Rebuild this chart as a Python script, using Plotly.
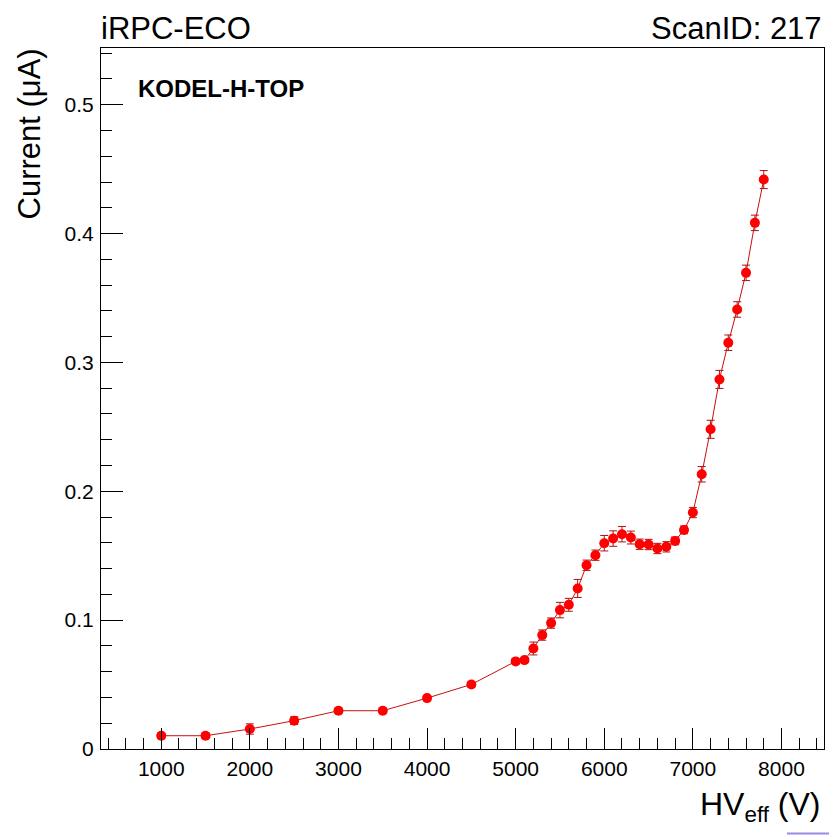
import plotly.graph_objects as go

# ---- data ----
hv = [1000, 1500, 2000, 2500, 3000, 3500, 4000, 4500,
      5000, 5100, 5200, 5300, 5400, 5500, 5600, 5700, 5800, 5900,
      6000, 6100, 6200, 6300, 6400, 6500, 6600, 6700, 6800, 6900,
      7000, 7100, 7200, 7300, 7400, 7500, 7600, 7700, 7800]
current = [0.0103, 0.0103, 0.0155, 0.0220, 0.0297, 0.0297, 0.0395, 0.0501,
           0.0680, 0.0690, 0.0780, 0.0884, 0.0977, 0.1078, 0.1119, 0.1246, 0.1426, 0.1504,
           0.1597, 0.1633, 0.1667, 0.1641, 0.1589, 0.1587, 0.1556, 0.1569, 0.1615, 0.1700,
           0.1835, 0.2132, 0.2481, 0.2868, 0.3153, 0.3411, 0.3695, 0.4083, 0.4419]
current_err = [0.002, 0.002, 0.004, 0.003, 0.002, 0.002, 0.002, 0.002,
               0.002, 0.002, 0.005, 0.004, 0.004, 0.006, 0.005, 0.007, 0.004, 0.004,
               0.006, 0.006, 0.006, 0.005, 0.004, 0.004, 0.004, 0.004, 0.003, 0.003,
               0.004, 0.006, 0.007, 0.007, 0.006, 0.006, 0.006, 0.006, 0.007]

y_tick_vals = [0, 0.1, 0.2, 0.3, 0.4, 0.5]
y_tick_text = ["0", "0.1", "0.2", "0.3", "0.4", "0.5"]

title_left = "iRPC-ECO"
title_right = "ScanID: 217"
label_text = "KODEL-H-TOP"
x_title = "HV<sub>eff</sub> (V)"
y_title = "Current (\u03bcA)"

# ---- layout geometry ----
W, H = 829, 835
ML, MR, MT, MB = 101, 5, 48, 86
PW = W - ML - MR
PH = H - MT - MB


def px_x(px):
    return (px - ML) / PW


def px_y(py):
    return (H - MB - py) / PH


FONT = "Liberation Sans, Arial, Helvetica, sans-serif"

fig = go.Figure()
fig.add_trace(go.Scatter(
    x=hv, y=current,
    mode="lines+markers",
    line=dict(color="#c81010", width=1),
    marker=dict(color="#ff0000", size=10, line=dict(width=0)),
    error_y=dict(type="data", array=current_err, visible=True,
                 color="#a81414", thickness=1, width=4),
    showlegend=False,
))

axis_common = dict(
    showline=True, linecolor="black", linewidth=1, mirror=True,
    ticks="inside", tickcolor="black", tickwidth=1,
    showgrid=False, zeroline=False,
    tickfont=dict(family=FONT, size=21, color="black"),
)

fig.update_xaxes(
    range=[320, 8480], tick0=0, dtick=1000, ticklen=21,
    minor=dict(dtick=200, tick0=0, ticklen=11, ticks="inside", tickcolor="black", showgrid=False),
    ticklabelstandoff=1,
    **axis_common,
)
fig.update_yaxes(
    range=[0, 0.544], tickmode="array", tickvals=y_tick_vals, ticktext=y_tick_text,
    ticklen=22,
    minor=dict(dtick=0.02, tick0=0, ticklen=11, ticks="inside", tickcolor="black", showgrid=False),
    ticklabelstandoff=2,
    **axis_common,
)

annotations = [
    dict(text=title_left, x=px_x(99), y=px_y(28), xanchor="left", yanchor="middle",
         font=dict(family=FONT, size=31, color="black")),
    dict(text=title_right, x=px_x(824), y=px_y(28), xanchor="right", yanchor="middle",
         font=dict(family=FONT, size=31, color="black")),
    dict(text="<b>" + label_text + "</b>", x=px_x(136), y=px_y(89), xanchor="left", yanchor="middle",
         font=dict(family=FONT, size=24, color="black")),
    dict(text=y_title, x=px_x(29), y=px_y(47), xanchor="center", yanchor="top", textangle=-90,
         font=dict(family=FONT, size=31, color="black")),
    dict(text=x_title, x=px_x(823), y=px_y(806), xanchor="right", yanchor="middle",
         font=dict(family=FONT, size=32, color="black")),
]
for a in annotations:
    a.update(xref="paper", yref="paper", showarrow=False)

fig.update_layout(
    width=W, height=H,
    margin=dict(l=ML, r=MR, t=MT, b=MB, pad=0),
    paper_bgcolor="white", plot_bgcolor="white",
    annotations=annotations,
    shapes=[dict(type="line", xref="paper", yref="paper",
                 x0=px_x(787), x1=px_x(829), y0=px_y(833.5), y1=px_y(833.5),
                 line=dict(color="#9a8ce6", width=2))],
)

fig.write_html("out.html")
